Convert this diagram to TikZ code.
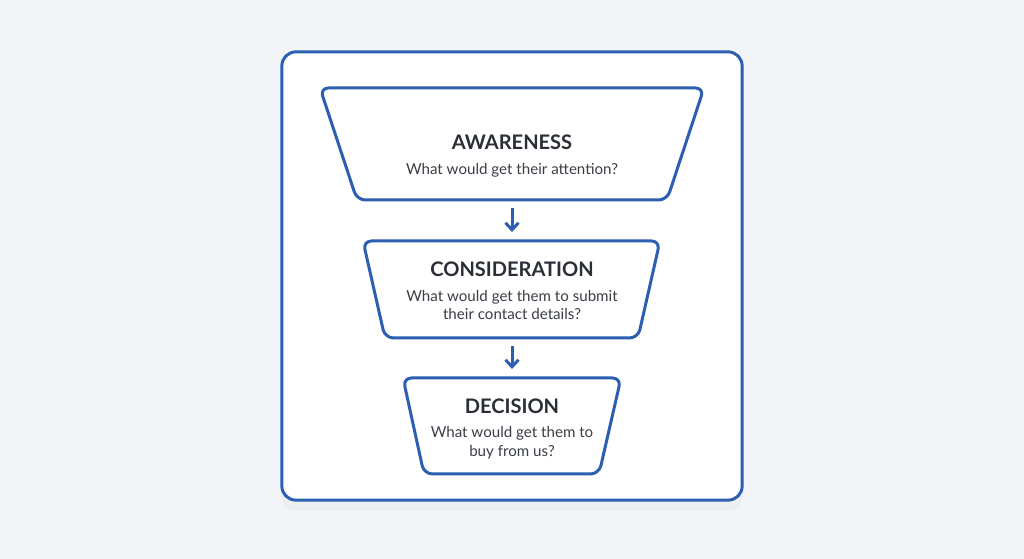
\documentclass[tikz,border=0pt]{standalone}
\usepackage{fontspec}
\setmainfont{Lato}
\usetikzlibrary{arrows.meta,positioning,shadows}
\definecolor{funnelblue}{RGB}{44,94,178}
\definecolor{pagegrey}{RGB}{243,244,248}
\definecolor{inkdark}{RGB}{42,46,53}
\definecolor{inksoft}{RGB}{58,62,70}

\begin{document}
\begin{tikzpicture}
             %% setup
             [
                 x=0.01cm, y=-0.01cm,
                 framebox/.style={rectangle, rounded corners=0.14cm, draw=funnelblue, fill=white, line width=0.85pt, drop shadow={opacity=0.05, shadow xshift=0pt, shadow yshift=-3pt}},
                 stageline/.style={draw=funnelblue, fill=white, line width=0.85pt, rounded corners=2.4pt, line join=round},
                 stagetext/.style={align=center, text=inksoft, font=\fontsize{4.3}{5.3}\selectfont},
                 flowarrow/.style={draw=funnelblue, line width=0.85pt, -{Straight Barb[length=0.07cm, width=0.13cm]}, shorten <=0.08cm, shorten >=0.09cm},
             ]
                 \fill[pagegrey] (0,0) rectangle (1024,559);
                 \useasboundingbox (0,0) rectangle (1024,559);

                 %% Frame
                 \node [framebox, minimum width=4.6cm, minimum height=4.48cm] (frame) at (512,276) {};

                 %% Funnel stages
                 \draw[stageline] (320,88) -- (704,88) -- (667,200) -- (357,200) -- cycle;
                 \draw[stageline] (363,241) -- (660,241) -- (638,338) -- (385,338) -- cycle;
                 \draw[stageline] (403,378) -- (621,378) -- (599,474) -- (424,474) -- cycle;

                 \coordinate (awarenessBottom) at (512,200);
                 \coordinate (considerationTop) at (512,241);
                 \coordinate (considerationBottom) at (512,338);
                 \coordinate (decisionTop) at (512,378);

                 %% Texts
                 \node [stagetext] (awarenessText) at (512,156) {{\fontsize{5.7}{6}\selectfont\bfseries\color{inkdark}AWARENESS}\\[1.6pt] What would get their attention?};
                 \node [stagetext] (considerationText) at (512,291) {{\fontsize{5.7}{6}\selectfont\bfseries\color{inkdark}CONSIDERATION}\\[1.6pt] What would get them to submit\\ their contact details?};
                 \node [stagetext] (decisionText) at (512,429) {{\fontsize{5.7}{6}\selectfont\bfseries\color{inkdark}DECISION}\\[1.6pt] What would get them to\\ buy from us?};

                 %% Lines
                 \draw[flowarrow] (awarenessBottom) -- (considerationTop);
                 \draw[flowarrow] (considerationBottom) -- (decisionTop);
\end{tikzpicture}
\end{document}
